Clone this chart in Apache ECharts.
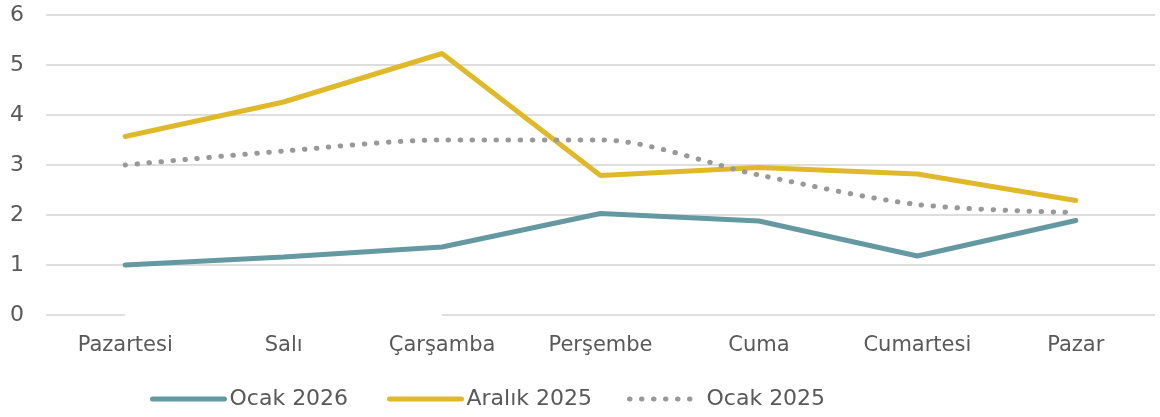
<!DOCTYPE html>
<html>
<head>
<meta charset="utf-8">
<script src="https://cdn.jsdelivr.net/npm/echarts@6/dist/echarts.min.js"></script>
<style>
  html, body { margin: 0; padding: 0; background: #fff; }
  #chart { width: 1160px; height: 417px; }
</style>
</head>
<body>
<div id="chart"></div>
<script>
// gunler
var gunler = ['Pazartesi', 'Salı', 'Çarşamba', 'Perşembe', 'Cuma', 'Cumartesi', 'Pazar'];
var ocak2026 = [1.0, 1.16, 1.36, 2.03, 1.88, 1.18, 1.89];
var aralik2025 = [3.57, 4.26, 5.23, 2.79, 2.95, 2.82, 2.29];
var ocak2025 = [3.0, 3.28, 3.5, 3.5, 2.8, 2.21, 2.05];
// sifir cizgisini kapatan beyaz seri (orijinalde var)
var gizli = [0, 0, 0, null, null, null, null];

var yaziRengi = '#595959';
var font = 'DejaVu Sans';

// her lejant ayri konumlaniyor
function lejant(ad, sol) {
  return {
    data: [ad],
    top: 383,
    left: sol,
    itemWidth: 72,
    itemHeight: 14,
    itemStyle: { opacity: 0 },
    lineStyle: { width: 5 },
    textStyle: { color: yaziRengi, fontSize: 22, fontFamily: font }
  };
}

var myChart = echarts.init(document.getElementById('chart'));
myChart.setOption({
  animation: false,
  grid: { left: 46, right: 5, top: 15, bottom: 102 },
  legend: [
    lejant('Ocak 2026', 145),
    lejant('Aralık 2025', 382),
    lejant('Ocak 2025', 622)
  ],
  xAxis: {
    type: 'category',
    data: gunler,
    axisLine: { show: false },
    axisTick: { show: false },
    axisLabel: { color: yaziRengi, fontSize: 21, fontFamily: font, margin: 20 }
  },
  yAxis: {
    type: 'value',
    min: 0,
    max: 6,
    interval: 1,
    axisLabel: { color: yaziRengi, fontSize: 22, fontFamily: font, margin: 22 },
    splitLine: { lineStyle: { color: '#dedede', width: 2 } }
  },
  series: [
    {
      name: 'gizli',
      type: 'line',
      data: gizli,
      symbol: 'none',
      silent: true,
      z: 1,
      lineStyle: { color: '#ffffff', width: 4 }
    },
    {
      name: 'Ocak 2026',
      type: 'line',
      data: ocak2026,
      symbol: 'none',
      itemStyle: { color: '#6599a2' },
      lineStyle: { color: '#6599a2', width: 5, cap: 'round' }
    },
    {
      name: 'Aralık 2025',
      type: 'line',
      data: aralik2025,
      symbol: 'none',
      itemStyle: { color: '#e0b92a' },
      lineStyle: { color: '#e0b92a', width: 5, cap: 'round' }
    },
    {
      name: 'Ocak 2025',
      type: 'line',
      data: ocak2025,
      symbol: 'none',
      smooth: 0.3,
      itemStyle: { color: '#999999' },
      lineStyle: { color: '#999999', width: 5, type: [0.5, 11.5], cap: 'round' }
    }
  ]
});
</script>
</body>
</html>
